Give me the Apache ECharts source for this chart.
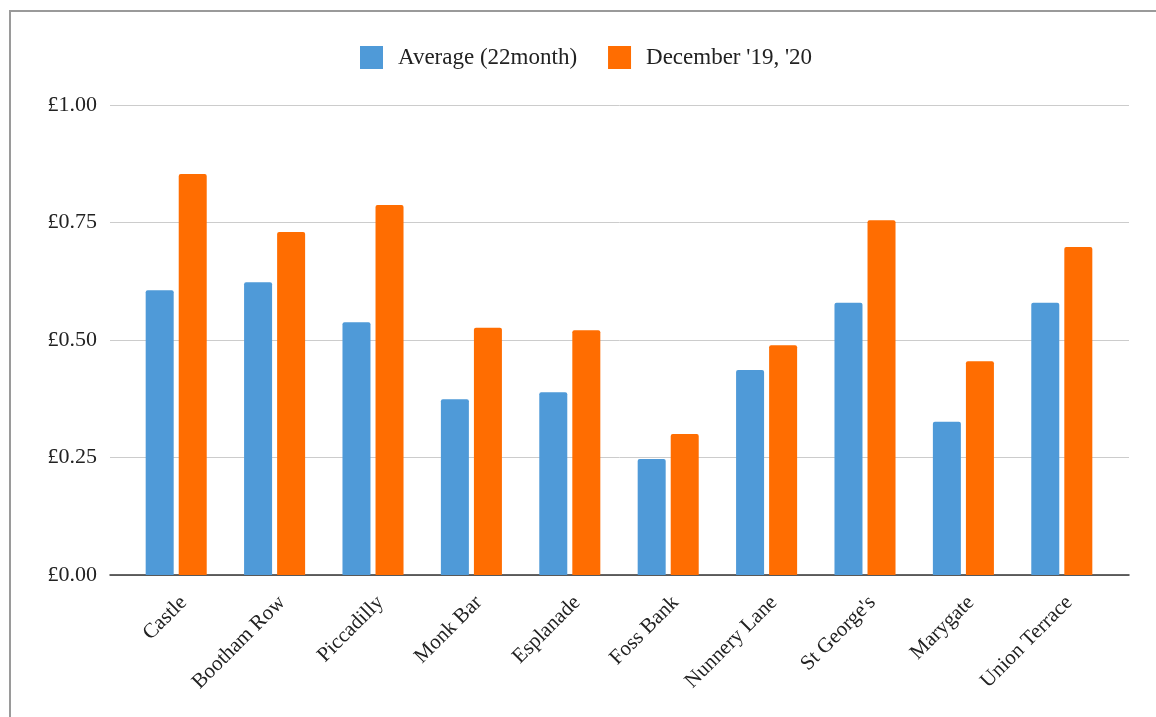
<!DOCTYPE html>
<html>
<head>
<meta charset="utf-8">
<script src="https://cdn.jsdelivr.net/npm/echarts@6/dist/echarts.min.js"></script>
<style>
  html, body { margin: 0; padding: 0; background: #fff; overflow: hidden; }
  #frame { position: absolute; left: 9px; top: 10px; width: 1200px; height: 760px; border: 2px solid #9a9a9a; }
  #chart { position: absolute; left: 0; top: 0; width: 1156px; height: 717px; }
</style>
</head>
<body>
<div id="frame"></div>
<div id="chart"></div>
<script>
// categories and values
const stops = ['Castle', 'Bootham Row', 'Piccadilly', 'Monk Bar', 'Esplanade', 'Foss Bank', 'Nunnery Lane', "St George's", 'Marygate', 'Union Terrace']
const average22 = [0.606, 0.623, 0.538, 0.374, 0.389, 0.247, 0.436, 0.579, 0.326, 0.579]
const december = [0.853, 0.730, 0.787, 0.526, 0.521, 0.300, 0.489, 0.755, 0.455, 0.698]
const yTicks = [0, 0.25, 0.5, 0.75, 1]

const font = 'Liberation Serif'
const chart = echarts.init(document.getElementById('chart'))

chart.setOption({
  animation: false,
  legend: {
    top: 46,
    left: 360,
    padding: 0,
    itemWidth: 23,
    itemHeight: 23,
    itemGap: 31,
    icon: 'rect',
    textStyle: { fontFamily: font, fontSize: 23, color: '#222', padding: [0, 0, 0, 10] },
    data: ['Average (22month)', "December '19, '20"]
  },
  grid: [
    // outer grid: gridlines, y labels, baseline
    { left: 110, right: 27, top: 105, bottom: 142 },
    // inner grid: bars, padded like the original
    { left: 127, right: 45, top: 105, bottom: 142 }
  ],
  xAxis: [
    {
      gridIndex: 0,
      type: 'category',
      data: stops,
      axisLine: { show: true, lineStyle: { color: '#333', width: 1.5 } },
      axisTick: { show: false },
      axisLabel: { show: false }
    },
    {
      gridIndex: 1,
      type: 'category',
      data: stops,
      axisLine: { show: false },
      axisTick: { show: false },
      axisLabel: {
        interval: 0,
        rotate: 45,
        margin: 17,
        verticalAlign: 'top',
        fontFamily: font,
        fontSize: 21,
        color: '#222'
      }
    }
  ],
  yAxis: [
    {
      gridIndex: 0,
      type: 'value',
      min: yTicks[0],
      max: yTicks[yTicks.length - 1],
      interval: 0.25,
      axisLine: { show: false },
      axisTick: { show: false },
      splitLine: { lineStyle: { color: '#cccccc', width: 1 } },
      axisLabel: {
        margin: 13,
        fontFamily: font,
        fontSize: 22,
        color: '#222',
        formatter: v => '£' + v.toFixed(2)
      }
    },
    {
      gridIndex: 1,
      type: 'value',
      min: yTicks[0],
      max: yTicks[yTicks.length - 1],
      interval: 0.25,
      show: false
    }
  ],
  series: [
    {
      name: 'Average (22month)',
      type: 'bar',
      xAxisIndex: 1,
      yAxisIndex: 1,
      barWidth: 28,
      barGap: '18%',
      itemStyle: { color: '#4f9ad8', borderRadius: [2, 2, 0, 0] },
      data: average22
    },
    {
      name: "December '19, '20",
      type: 'bar',
      xAxisIndex: 1,
      yAxisIndex: 1,
      barWidth: 28,
      itemStyle: { color: '#ff6d01', borderRadius: [2, 2, 0, 0] },
      data: december
    }
  ]
})
</script>
</body>
</html>
